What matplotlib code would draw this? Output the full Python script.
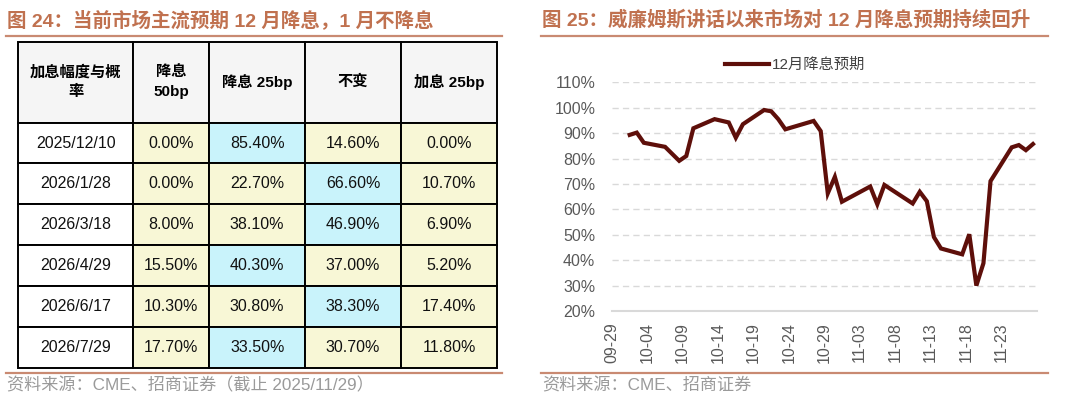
"""
CME 降息概率表 + 12 月降息预期走势
"""

import matplotlib
import pandas as pd
from matplotlib import pyplot as plt
from matplotlib.lines import Line2D

matplotlib.use("Agg")
plt.rcParams["font.family"] = ["Liberation Sans", "Noto Sans CJK SC"]

W, H = 1080, 399
TITLE_COLOR = "#C0714F"
RULE_COLOR = "#C98A72"
SRC_COLOR = "#9A9A9A"
LINE_COLOR = "#5E0F0A"
YELLOW = "#F8F7D6"
BLUE = "#C9F3FB"
HEAD_BG = "#F5F5F5"

# 表格数据
meeting_dates = ["2025/12/10", "2026/1/28", "2026/3/18", "2026/4/29", "2026/6/17", "2026/7/29"]
col_heads = ["加息幅度与概\n率", "降息\n50bp", "降息 25bp", "不变", "加息 25bp"]
cut_50bp = [0.00, 0.00, 8.00, 15.50, 10.30, 17.70]
cut_25bp = [85.40, 22.70, 38.10, 40.30, 30.80, 33.50]
no_change = [14.60, 66.60, 46.90, 37.00, 38.30, 30.70]
hike_25bp = [0.00, 10.70, 6.90, 5.20, 17.40, 11.80]

# 折线数据：12 月降息概率 (%)
obs_dates = [
    "2025-10-01", "2025-10-02", "2025-10-03", "2025-10-06", "2025-10-08", "2025-10-09",
    "2025-10-10", "2025-10-13", "2025-10-15", "2025-10-16", "2025-10-17", "2025-10-20",
    "2025-10-21", "2025-10-22", "2025-10-23", "2025-10-27", "2025-10-28", "2025-10-29",
    "2025-10-30", "2025-10-31", "2025-11-04", "2025-11-05", "2025-11-06", "2025-11-10",
    "2025-11-11", "2025-11-12", "2025-11-13", "2025-11-14", "2025-11-17", "2025-11-18",
    "2025-11-19", "2025-11-20", "2025-11-21", "2025-11-24", "2025-11-25", "2025-11-26",
    "2025-11-27",
]
dec_cut_prob = [
    89.3, 90.2, 86.2, 84.6, 79.1, 81.0,
    91.9, 95.5, 94.2, 88.2, 93.5, 99.1,
    98.6, 95.5, 91.5, 94.8, 90.8, 66.3,
    72.8, 63.0, 69.0, 62.0, 69.6, 62.3,
    66.9, 63.2, 49.1, 44.6, 42.3, 50.2,
    30.0, 38.8, 71.1, 84.4, 85.3, 83.3,
    85.7,
]
tick_labels = ["09-29", "10-04", "10-09", "10-14", "10-19", "10-24",
               "10-29", "11-03", "11-08", "11-13", "11-18", "11-23"]
y_ticks = [20, 30, 40, 50, 60, 70, 80, 90, 100, 110]


def fx(px):
    return px / W


def fy(py):
    return 1 - py / H


fig = plt.figure(figsize=(W / 100, H / 100), dpi=100)

# ---- 标题、分隔线、来源 ----
fig.text(fx(7), fy(20), "图 24：当前市场主流预期 12 月降息，1 月不降息",
         color=TITLE_COLOR, fontsize=14, fontweight="bold", va="center")
fig.text(fx(542), fy(20), "图 25：威廉姆斯讲话以来市场对 12 月降息预期持续回升",
         color=TITLE_COLOR, fontsize=14, fontweight="bold", va="center")
for x0, x1 in [(6, 502), (541, 1048)]:
    fig.add_artist(Line2D([fx(x0), fx(x1)], [fy(36), fy(36)], color=RULE_COLOR, lw=1.6))
    fig.add_artist(Line2D([fx(x0), fx(x1)], [fy(373), fy(373)], color=RULE_COLOR, lw=1.6))
fig.text(fx(7), fy(385), "资料来源：CME、招商证券（截止 2025/11/29）",
         color=SRC_COLOR, fontsize=12.3, va="center")
fig.text(fx(542), fy(385), "资料来源：CME、招商证券",
         color=SRC_COLOR, fontsize=12.3, va="center")

# ---- 左：概率表 ----
tax = fig.add_axes([fx(18.3), fy(367.7), fx(497.3 - 18.3), (367.7 - 41.7) / H])
tax.set_axis_off()
cols = [cut_50bp, cut_25bp, no_change, hike_25bp]
cell_text = [[d] + [f"{c[i]:.2f}%" for c in cols] for i, d in enumerate(meeting_dates)]
cell_colors = []
for i in range(len(meeting_dates)):
    vals = [c[i] for c in cols]
    top = max(vals)
    cell_colors.append(["white"] + [BLUE if v == top else YELLOW for v in vals])

col_w = [115, 76, 95.7, 96, 96.3]
tbl = tax.table(cellText=cell_text, cellColours=cell_colors, colLabels=col_heads,
                colColours=[HEAD_BG] * 5, colWidths=[w / sum(col_w) for w in col_w],
                cellLoc="center", bbox=[0, 0, 1, 1])
tbl.auto_set_font_size(False)
base_h = tbl[1, 0].get_height()
for (r, c), cell in tbl.get_celld().items():
    cell.set_edgecolor("black")
    cell.set_linewidth(1.4)
    txt = cell.get_text()
    if r == 0:
        cell.set_height(base_h * 1.98)
        txt.set_fontsize(11)
        txt.set_fontweight("bold")
        txt.set_linespacing(1.5)
    else:
        cell.set_height(base_h)
        txt.set_fontsize(11.5)
        txt.set_color("#111111")

# ---- 右：折线 ----
ax = fig.add_axes([fx(612), fy(311), fx(1036.5 - 612), (311 - 82.3) / H])
x = pd.to_datetime(obs_dates)
ax.plot(x, dec_cut_prob, color=LINE_COLOR, lw=3.0, solid_joinstyle="miter",
        label="12月降息预期")

# 日期轴：每个日期占一格，刻度在格左边
half = pd.Timedelta(hours=12)
ticks = pd.to_datetime(["2025-" + t for t in tick_labels]) - half
ax.set_xticks(ticks)
ax.set_xticklabels(tick_labels, rotation=90, fontsize=11.5, color="#595959")
ax.set_xlim(pd.Timestamp("2025-09-29") - half, x[-1] + half)
ax.set_ylim(20, 110)
ax.set_yticks(y_ticks)
ax.set_yticklabels([f"{v}%" for v in y_ticks], fontsize=11.5, color="#595959")
ax.tick_params(axis="both", length=0)
ax.tick_params(axis="y", pad=12)
ax.tick_params(axis="x", pad=8)
ax.grid(axis="y", color="#D9D9D9", lw=1.0, linestyle=(0, (4.5, 3)))
ax.set_axisbelow(True)
for side in ["top", "right", "left"]:
    ax.spines[side].set_visible(False)
ax.spines["bottom"].set_color("#D9D9D9")
ax.spines["bottom"].set_linewidth(1.5)

leg = ax.legend(loc="center left", bbox_to_anchor=(fx(725), fy(65)),
                bbox_transform=fig.transFigure, frameon=False, fontsize=11,
                handlelength=2.9, handletextpad=0.2, borderpad=0, borderaxespad=0)
for t in leg.get_texts():
    t.set_color("#404040")

fig.savefig("out.png", dpi=100)
